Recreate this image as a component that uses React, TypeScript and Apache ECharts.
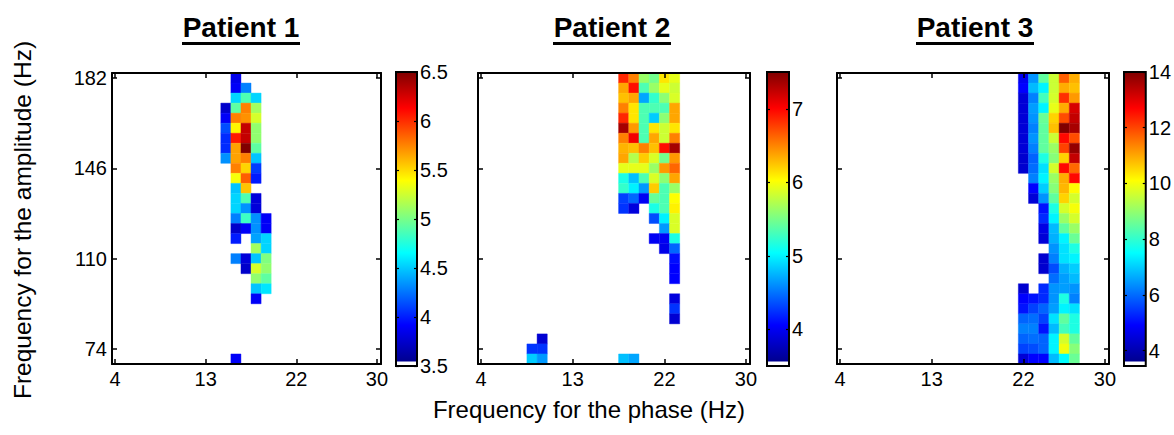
import React, { useEffect, useRef } from 'react';
import * as echarts from 'echarts';

const ampFreqs = [182, 178, 174, 170, 166, 162, 158, 154, 150, 146, 142, 138, 134, 130, 126, 122, 118, 114, 110, 106, 102, 98, 94, 90, 86, 82, 78, 74, 70];
const phaseTicks = [4, 13, 22, 30];
const ampTicks = [74, 110, 146, 182];

const titles = ['Patient 1', 'Patient 2', 'Patient 3'];
const cbMin = [3.5, 3.5, 3.45];
const cbMax = [6.5, 7.5, 14];
const cbTicks = [
  [3.5, 4, 4.5, 5, 5.5, 6, 6.5],
  [4, 5, 6, 7],
  [4, 6, 8, 10, 12, 14],
];

const n = null;

const p1Phases = [15, 16, 17, 18, 19];
const p1Values = [
  [n, 3.8, n, n, n],
  [n, 3.85, 4.25, n, n],
  [n, 4.5, 4.85, 4.5, n],
  [3.7, 4.9, 5.75, 5.1, n],
  [3.85, 5.75, 5.7, 5.25, n],
  [4.1, 5.4, 6.3, 5.05, n],
  [4.0, 6.05, 6.3, 5.05, n],
  [4.0, 5.65, 6.5, 4.9, n],
  [4.3, 5.65, 5.75, 4.45, n],
  [n, 5.75, 5.5, 4.05, n],
  [n, 5.35, 5.85, 3.95, n],
  [n, 4.45, 5.55, n, n],
  [n, 4.5, 4.85, 3.75, n],
  [n, 4.5, 4.3, 3.75, n],
  [n, 4.25, 4.8, 4.3, 3.85],
  [n, 3.7, 3.85, 4.3, 3.85],
  [n, 3.95, n, 4.35, 4.5],
  [n, n, n, 5.1, 4.5],
  [n, 4.25, 3.75, 4.45, 5.0],
  [n, n, 3.7, 5.25, 5.05],
  [n, n, n, 5.05, 4.9],
  [n, n, n, 4.45, 4.55],
  [n, n, n, 3.85, n],
  [n, n, n, n, n],
  [n, n, n, n, n],
  [n, n, n, n, n],
  [n, n, n, n, n],
  [n, n, n, n, n],
  [n, 3.85, n, n, n],
];

const p2Phases = [9, 10, 18, 19, 20, 21, 22, 23];
const p2Values = [
  [n, n, 6.85, 6.5, 5.6, 5.45, 6.1, 5.9],
  [n, n, 6.35, 6.95, 5.3, 5.6, 5.9, 5.8],
  [n, n, 6.25, 6.35, 4.65, 5.2, 5.55, 5.85],
  [n, n, 6.5, 6.1, 5.3, 5.3, 5.3, 6.35],
  [n, n, 6.85, 6.1, 5.3, 4.8, 5.55, 6.35],
  [n, n, 7.35, 6.4, 5.3, 6.1, 5.8, 6.1],
  [n, n, 6.5, 7.05, 5.3, 6.35, 5.8, 6.5],
  [n, n, 6.3, 6.25, 6.5, 6.25, 6.95, 7.35],
  [n, n, 6.35, 5.7, 6.2, 5.85, 5.45, 6.4],
  [n, n, 5.9, 5.9, 5.9, 5.6, 6.4, 6.6],
  [n, n, 5.1, 4.75, 5.3, 5.85, 5.55, 6.35],
  [n, n, 5.2, 4.95, 4.6, 6.2, 5.3, 5.6],
  [n, n, 4.25, 4.4, 3.95, 5.4, 5.3, 6.0],
  [n, n, 4.2, 3.85, n, 5.1, 5.3, 6.05],
  [n, n, n, n, n, 4.3, 4.95, 5.85],
  [n, n, n, n, n, n, 4.6, 5.85],
  [n, n, n, n, n, 3.95, 3.95, 5.1],
  [n, n, n, n, n, n, 3.9, 4.4],
  [n, n, n, n, n, n, n, 4.05],
  [n, n, n, n, n, n, n, 4.0],
  [n, n, n, n, n, n, n, 4.0],
  [n, n, n, n, n, n, n, n],
  [n, n, n, n, n, n, n, 3.85],
  [n, n, n, n, n, n, n, 4.2],
  [n, n, n, n, n, n, n, 3.8],
  [n, n, n, n, n, n, n, n],
  [n, 3.8, n, n, n, n, n, n],
  [4.2, 4.2, n, n, n, n, n, n],
  [4.8, 4.6, 4.75, 4.65, n, n, n, n],
];

const p3Phases = [22, 23, 24, 25, 26, 27];
const p3Values = [
  [4.6, 6.3, 8.4, 9.5, 11.7, 10.9],
  [4.77, 6.7, 7.3, 9.5, 10.9, 10.7],
  [4.3, 6.1, 8.1, 9.6, 12.2, 11.1],
  [4.3, 6.4, 7.3, 9.8, 10.9, 13.1],
  [4.3, 6.3, 8.5, 10.5, 11.9, 13.3],
  [4.3, 6.1, 8.4, 10.7, 14.0, 13.6],
  [4.3, 6.3, 8.4, 9.5, 12.6, 11.9],
  [4.3, 6.1, 8.4, 9.0, 12.0, 13.8],
  [4.2, 5.8, 7.7, 8.8, 10.5, 13.3],
  [4.2, 5.9, 7.1, 9.6, 12.6, 11.6],
  [n, 6.1, 7.3, 9.0, 10.9, 12.6],
  [n, 4.77, 6.9, 8.8, 10.8, 10.05],
  [n, 4.3, 6.3, 8.4, 10.5, 9.6],
  [n, n, 4.95, 7.7, 9.6, 9.95],
  [n, n, 5.2, 7.3, 9.0, 9.6],
  [n, n, 4.45, 6.7, 8.4, 9.0],
  [n, n, 4.3, 6.6, 7.3, 8.5],
  [n, n, n, 6.3, 7.1, 7.7],
  [n, n, 4.2, 6.1, 7.1, 7.3],
  [n, n, 4.2, 5.55, 6.6, 6.9],
  [n, n, n, 5.9, 6.4, 6.7],
  [4.2, n, 5.2, 6.3, 6.4, 6.3],
  [4.77, 4.95, 5.2, 6.3, 7.7, 6.1],
  [4.95, 5.45, 5.8, 6.4, 7.3, 7.1],
  [5.8, 5.9, 5.45, 7.1, 8.4, 7.7],
  [6.1, 6.1, 4.95, 6.7, 8.1, 7.7],
  [5.8, 5.9, 5.8, 7.3, 9.6, 8.4],
  [5.45, 5.55, 5.8, 7.3, 9.9, 8.8],
  [4.3, 4.77, 4.77, 6.7, 7.4, 8.5],
];

const phaseLists = [p1Phases, p2Phases, p3Phases];
const valueLists = [p1Values, p2Values, p3Values];

const jet = ['#00008F', '#0000FF', '#0080FF', '#00FFFF', '#80FF80', '#FFFF00', '#FF8000', '#FF0000', '#800000'];

const FONT = 'Liberation Sans, Arial, Helvetica, sans-serif';

function toTriples(phases: number[], values: (number | null)[][]) {
  const out: number[][] = [];
  values.forEach((row, r) => {
    row.forEach((v, c) => {
      if (v !== null && v !== undefined) out.push([phases[c], ampFreqs[r], v]);
    });
  });
  return out;
}

const layout = [
  { left: 112, width: 269, cbLeft: 396, cbWidth: 21, titleX: 241 },
  { left: 478, width: 272, cbLeft: 767, cbWidth: 22, titleX: 612 },
  { left: 837, width: 272, cbLeft: 1124, cbWidth: 23, titleX: 975 },
];
const PLOT_TOP = 73;
const PLOT_H = 291;
const CB_TOP = 72;
const CB_H = 294;
const X_MIN = 3.7;
const X_MAX = 30.4;
const Y_MIN = 68;
const Y_MAX = 184;
const X_STEP = 1;
const Y_STEP = 4;

export default function App() {
  const ref = useRef<HTMLDivElement>(null);
  useEffect(() => {
    document.body.style.margin = '0';
    if (!ref.current) return;
    const chart = echarts.init(ref.current, undefined, { renderer: 'svg' });

    const grid: any[] = [];
    const xAxis: any[] = [];
    const yAxis: any[] = [];
    const series: any[] = [];
    const visualMap: any[] = [];
    const graphic: any[] = [];

    const tickStyle = { inside: true, length: 5, lineStyle: { color: '#000', width: 1.5 } };
    const lineStyle = { show: true, onZero: false, lineStyle: { color: '#000', width: 2 } };
    const labelStyle = { color: '#000', fontSize: 20, fontFamily: FONT };

    layout.forEach((L, i) => {
      grid.push({ left: L.left, top: PLOT_TOP, width: L.width, height: PLOT_H });
      grid.push({ left: L.cbLeft, top: CB_TOP, width: L.cbWidth, height: CB_H });
      const g = 2 * i;
      xAxis.push({
        type: 'value', gridIndex: g, position: 'bottom', min: X_MIN, max: X_MAX, z: 10,
        axisLine: lineStyle,
        axisTick: { ...tickStyle, customValues: phaseTicks },
        axisLabel: { ...labelStyle, margin: 5, customValues: phaseTicks },
        splitLine: { show: false },
      });
      xAxis.push({
        type: 'value', gridIndex: g, position: 'top', min: X_MIN, max: X_MAX, z: 10,
        axisLine: lineStyle,
        axisTick: { ...tickStyle, customValues: phaseTicks },
        axisLabel: { show: false },
        splitLine: { show: false },
      });
      xAxis.push({
        type: 'value', gridIndex: g + 1, min: 0, max: 1, show: false,
      });
      yAxis.push({
        type: 'value', gridIndex: g, position: 'left', min: Y_MIN, max: Y_MAX, z: 10,
        axisLine: lineStyle,
        axisTick: { ...tickStyle, customValues: ampTicks },
        axisLabel: { ...labelStyle, show: i === 0, margin: 5, customValues: ampTicks },
        splitLine: { show: false },
      });
      yAxis.push({
        type: 'value', gridIndex: g, position: 'right', min: Y_MIN, max: Y_MAX, z: 10,
        axisLine: lineStyle,
        axisTick: { ...tickStyle, customValues: ampTicks },
        axisLabel: { show: false },
        splitLine: { show: false },
      });
      yAxis.push({
        type: 'value', gridIndex: g + 1, position: 'left', min: cbMin[i], max: cbMax[i], z: 10,
        axisLine: { show: false },
        axisTick: { inside: true, length: 3, lineStyle: { color: '#000', width: 1.2 }, customValues: cbTicks[i] },
        axisLabel: { show: false },
        splitLine: { show: false },
      });
      yAxis.push({
        type: 'value', gridIndex: g + 1, position: 'right', min: cbMin[i], max: cbMax[i], z: 10,
        axisLine: { show: false },
        axisTick: { inside: true, length: 3, lineStyle: { color: '#000', width: 1.2 }, customValues: cbTicks[i] },
        axisLabel: { ...labelStyle, margin: 3, customValues: cbTicks[i] },
        splitLine: { show: false },
      });

      series.push({
        type: 'custom',
        xAxisIndex: 3 * i,
        yAxisIndex: 4 * i,
        data: toTriples(phaseLists[i], valueLists[i]),
        encode: { x: 0, y: 1 },
        renderItem: (params: any, api: any) => {
          const x = api.value(0);
          const y = api.value(1);
          const p1 = api.coord([x - X_STEP / 2, y + Y_STEP / 2]);
          const p2 = api.coord([x + X_STEP / 2, y - Y_STEP / 2]);
          const shape = echarts.graphic.clipRectByRect(
            { x: p1[0], y: p1[1], width: p2[0] - p1[0], height: p2[1] - p1[1] },
            params.coordSys
          );
          if (!shape) return null;
          const c = api.visual('color');
          return { type: 'rect', shape, style: { fill: c, stroke: c, lineWidth: 0.4 } };
        },
      });
      series.push({
        type: 'custom',
        xAxisIndex: 3 * i + 2,
        yAxisIndex: 4 * i + 3,
        data: [[0, cbMin[i], cbMax[i]]],
        encode: { x: 0, y: 1 },
        renderItem: (params: any, api: any) => {
          const lo = api.value(1);
          const hi = api.value(2);
          const bl = api.coord([0, lo]);
          const tr = api.coord([1, hi]);
          const sp = api.coord([0, lo + (hi - lo) / 64]);
          const x = bl[0];
          const w = tr[0] - bl[0];
          const stops = jet.map((c, k) => ({ offset: k / (jet.length - 1), color: c }));
          return {
            type: 'group',
            children: [
              { type: 'rect', shape: { x, y: sp[1], width: w, height: bl[1] - sp[1] }, style: { fill: '#fff' } },
              {
                type: 'rect', shape: { x, y: tr[1], width: w, height: sp[1] - tr[1] },
                style: { fill: new echarts.graphic.LinearGradient(0, 1, 0, 0, stops) },
              },
              {
                type: 'rect', shape: { x, y: tr[1], width: w, height: bl[1] - tr[1] },
                style: { fill: 'none', stroke: '#000', lineWidth: 2 },
              },
            ],
          };
        },
      });
      visualMap.push({
        type: 'continuous', show: false, min: cbMin[i], max: cbMax[i], dimension: 2,
        seriesIndex: 2 * i, inRange: { color: jet },
      });

      graphic.push({
        type: 'text', x: L.titleX, y: 27,
        style: {
          text: titles[i], fontFamily: FONT, fontWeight: 'bold', fontSize: 28,
          fill: '#000', align: 'center', verticalAlign: 'middle',
        },
      });
      graphic.push({
        type: 'rect', shape: { x: L.titleX - 59, y: 42, width: 118, height: 3 },
        style: { fill: '#000' },
      });
    });

    graphic.push({
      type: 'text', x: 589, y: 409,
      style: {
        text: 'Frequency for the phase (Hz)', fontFamily: FONT, fontSize: 24,
        fill: '#000', align: 'center', verticalAlign: 'middle',
      },
    });
    graphic.push({
      type: 'text', x: 22, y: 220, rotation: Math.PI / 2,
      style: {
        text: 'Frequency for the amplitude (Hz)', fontFamily: FONT, fontSize: 24.5,
        fill: '#000', align: 'center', verticalAlign: 'middle',
      },
    });

    chart.setOption({
      animation: false,
      backgroundColor: '#fff',
      textStyle: { fontFamily: FONT },
      grid, xAxis, yAxis, series, visualMap, graphic,
    });
    return () => chart.dispose();
  }, []);
  return <div ref={ref} style={{ width: 1174, height: 435 }} />;
}
